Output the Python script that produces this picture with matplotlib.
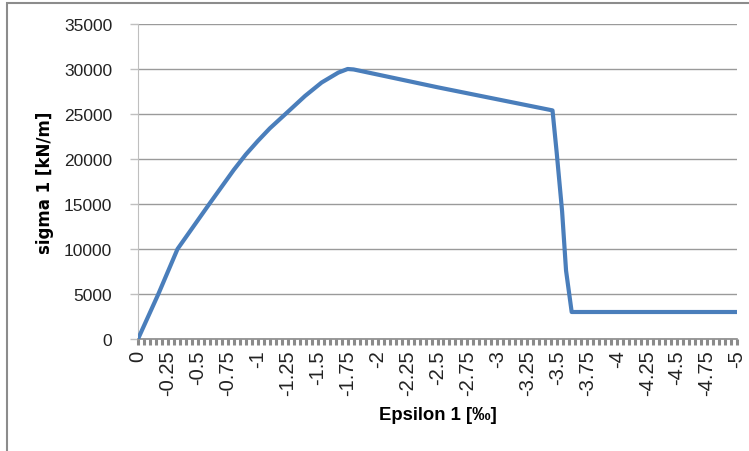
import numpy as np
import matplotlib
matplotlib.use("Agg")
import matplotlib.pyplot as plt
from matplotlib.ticker import MultipleLocator, FuncFormatter
from matplotlib.patches import Rectangle

## Data (epsilon in per mille, sigma in kN/m)
eps = [0, -0.17, -0.33, -0.595, -0.8, -0.9, -1.0, -1.1, -1.227, -1.394, -1.533, -1.672, -1.75, -1.8,
       -2.5, -3.46, -3.495, -3.54, -3.573, -3.62, -5.0]
sigma = [0, 5000, 10000, 15000, 18800, 20500, 22000, 23400, 24950, 27000, 28500, 29600, 30000, 29950,
         27970, 25400, 20700, 14200, 7600, 3000, 3000]

x_ticks = np.arange(0, -5.01, -0.25)
y_ticks = np.arange(0, 35001, 5000)

plt.rcParams["ytick.major.pad"] = 13
plt.rcParams["xtick.major.pad"] = 3

fig = plt.figure(figsize=(7.49, 4.52), dpi=100)
ax = fig.add_axes([138/749, 1 - 340/452, (737 - 138)/749, (340 - 25)/452])

ax.plot(eps, sigma, color="#4A7EBB", lw=3, solid_joinstyle="round", solid_capstyle="butt", zorder=3)

ax.set_xlim(0, -5)
ax.set_ylim(0, 35000)
ax.set_xticks(x_ticks)
ax.xaxis.set_minor_locator(MultipleLocator(0.05))
ax.set_yticks(y_ticks)

def fmt(v, pos):
    s = ("%.2f" % v).rstrip("0").rstrip(".")
    if s == "-0":
        s = "0"
    return s

ax.xaxis.set_major_formatter(FuncFormatter(fmt))
ax.yaxis.set_major_formatter(FuncFormatter(lambda v, p: "%d" % v))

ax.grid(axis="y", color="#9a9a9a", lw=1)
ax.set_axisbelow(True)
for s in ["top", "right"]:
    ax.spines[s].set_visible(False)
ax.spines["left"].set_color("#bfbfbf")
ax.spines["bottom"].set_color("#8a8a8a")
ax.spines["bottom"].set_linewidth(1.2)

ax.tick_params(axis="x", which="both", length=4.5, width=2.2, color="#8a8a8a", direction="out")
ax.tick_params(axis="x", which="major", labelrotation=90, labelsize=14.5)
ax.tick_params(axis="y", length=5.5, width=1, color="#bfbfbf", labelsize=12.5)
for lab in ax.get_xticklabels() + ax.get_yticklabels():
    lab.set_fontfamily(["Liberation Sans", "DejaVu Sans"])
    lab.set_color("#222222")

ax.set_ylabel("sigma 1 [kN/m]", fontfamily="DejaVu Sans", fontweight="bold", fontsize=12, labelpad=7)
ax.set_xlabel("Epsilon 1 [‰]", fontfamily=["Liberation Sans", "DejaVu Sans"],
              fontweight="bold", fontsize=13.3, labelpad=8)

# outer chart-area border (only left and top edges visible)
fig.patches.append(Rectangle((7/749, -0.05), 1.0, 1.05 - 4/452, transform=fig.transFigure,
                             fill=False, edgecolor="#8c8c8c", lw=1.5))

fig.savefig("out.png", dpi=100)
